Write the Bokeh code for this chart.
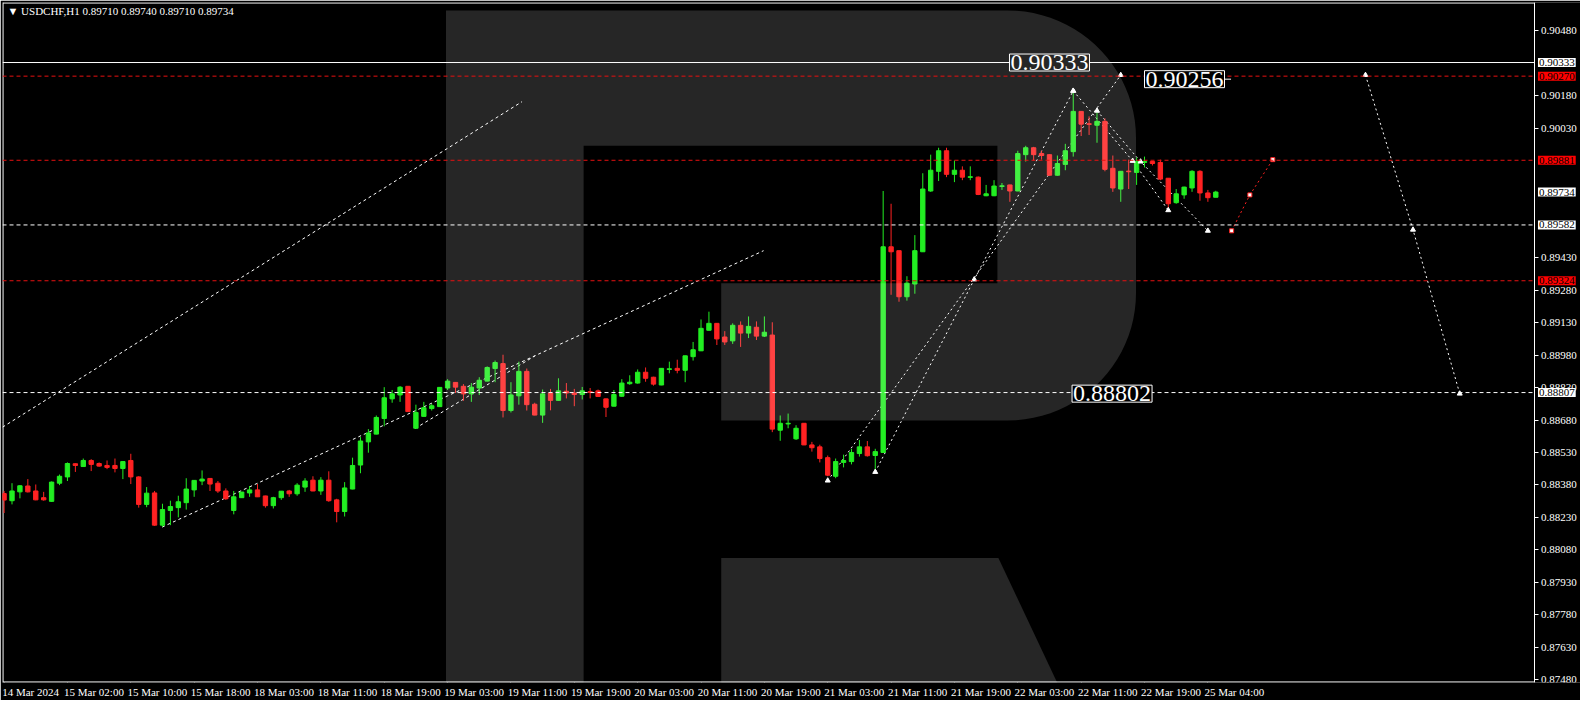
import numpy as np
from bokeh.plotting import figure
from bokeh.models import (Range1d, LinearAxis, FixedTicker, PrintfTickFormatter, Label, ColumnDataSource,
                          CustomLabelingPolicy)
from bokeh.embed import file_html
from bokeh.resources import INLINE

# ---------------- data (USDCHF H1) ----------------
opens = [0.88340,0.88307,0.88348,0.88375,0.88352,0.88321,0.88304,0.88388,0.88417,0.88478,
         0.88465,0.88493,0.88479,0.88470,0.88470,0.88456,0.88493,0.88417,0.88290,0.88343,
         0.88194,0.88262,0.88275,0.88298,0.88357,0.88398,0.88410,0.88388,0.88352,0.88262,
         0.88321,0.88343,0.88357,0.88329,0.88284,0.88321,0.88352,0.88339,0.88370,0.88402,
         0.88352,0.88402,0.88311,0.88257,0.88361,0.88472,0.88579,0.88615,0.88687,0.88778,
         0.88796,0.88836,0.88642,0.88697,0.88733,0.88742,0.88828,0.88854,0.88836,0.88801,
         0.88828,0.88860,0.88918,0.88941,0.88724,0.88792,0.88905,0.88753,0.88703,0.88805,
         0.88771,0.88813,0.88805,0.88798,0.88811,0.88815,0.88778,0.88744,0.88790,0.88848,
         0.88851,0.88901,0.88878,0.88842,0.88914,0.88919,0.88910,0.88973,0.89000,0.89095,
         0.89127,0.89064,0.89046,0.89118,0.89082,0.89109,0.89068,0.89073,0.88633,0.88662,
         0.88593,0.88665,0.88565,0.88556,0.88506,0.88420,0.88484,0.88488,0.88525,0.88556,
         0.88516,0.88530,0.89481,0.89463,0.89250,0.89309,0.89458,0.89739,0.89830,0.89925,
         0.89816,0.89835,0.89802,0.89803,0.89717,0.89717,0.89760,0.89767,0.89739,0.89907,
         0.89939,0.89912,0.89907,0.89812,0.89862,0.89921,0.90107,0.90050,0.90043,0.90061,
         0.89844,0.89748,0.89831,0.89825,0.89871,0.89875,0.89871,0.89798,0.89685,0.89721,
         0.89753,0.89830,0.89730,0.89710]
highs = [0.88352,0.88388,0.88379,0.88407,0.88382,0.88348,0.88396,0.88428,0.88484,0.88479,
         0.88502,0.88499,0.88484,0.88493,0.88502,0.88490,0.88524,0.88420,0.88370,0.88352,
         0.88293,0.88307,0.88330,0.88411,0.88402,0.88447,0.88411,0.88398,0.88364,0.88352,
         0.88348,0.88375,0.88384,0.88330,0.88325,0.88352,0.88357,0.88388,0.88411,0.88420,
         0.88416,0.88443,0.88316,0.88393,0.88506,0.88601,0.88638,0.88701,0.88832,0.88819,
         0.88837,0.88837,0.88751,0.88764,0.88755,0.88832,0.88869,0.88855,0.88846,0.88851,
         0.88878,0.88928,0.88955,0.88982,0.88855,0.88950,0.88918,0.88760,0.88821,0.88824,
         0.88873,0.88851,0.88824,0.88833,0.88828,0.88821,0.88779,0.88819,0.88869,0.88887,
         0.88914,0.88923,0.88880,0.88920,0.88950,0.88959,0.88978,0.89041,0.89145,0.89181,
         0.89128,0.89091,0.89127,0.89136,0.89159,0.89136,0.89159,0.89132,0.88701,0.88710,
         0.88656,0.88666,0.88579,0.88566,0.88516,0.88502,0.88520,0.88547,0.88588,0.88583,
         0.88547,0.89739,0.89680,0.89463,0.89345,0.89535,0.89821,0.89907,0.89939,0.89939,
         0.89880,0.89853,0.89853,0.89806,0.89767,0.89789,0.89776,0.89768,0.89925,0.89948,
         0.89943,0.89925,0.89908,0.89903,0.89957,0.90202,0.90108,0.90084,0.90107,0.90075,
         0.89903,0.89831,0.89884,0.89894,0.89898,0.89877,0.89884,0.89798,0.89748,0.89759,
         0.89835,0.89835,0.89744,0.89740]
lows = [0.88250,0.88290,0.88318,0.88345,0.88309,0.88307,0.88302,0.88379,0.88398,0.88440,
        0.88464,0.88444,0.88464,0.88453,0.88438,0.88407,0.88384,0.88275,0.88277,0.88191,
        0.88186,0.88194,0.88230,0.88266,0.88325,0.88379,0.88352,0.88343,0.88311,0.88244,
        0.88320,0.88325,0.88324,0.88275,0.88271,0.88311,0.88325,0.88330,0.88348,0.88351,
        0.88334,0.88302,0.88207,0.88234,0.88360,0.88434,0.88529,0.88614,0.88651,0.88760,
        0.88764,0.88718,0.88641,0.88696,0.88724,0.88741,0.88819,0.88805,0.88769,0.88764,
        0.88796,0.88859,0.88855,0.88692,0.88715,0.88751,0.88724,0.88702,0.88667,0.88725,
        0.88770,0.88780,0.88744,0.88775,0.88780,0.88787,0.88694,0.88743,0.88787,0.88843,
        0.88848,0.88857,0.88839,0.88841,0.88896,0.88896,0.88855,0.88955,0.88999,0.89094,
        0.89027,0.89027,0.89032,0.89018,0.89059,0.89050,0.89064,0.88624,0.88584,0.88642,
        0.88588,0.88564,0.88534,0.88484,0.88420,0.88411,0.88461,0.88475,0.88511,0.88511,
        0.88448,0.88529,0.89259,0.89227,0.89232,0.89264,0.89457,0.89735,0.89785,0.89803,
        0.89780,0.89789,0.89789,0.89720,0.89715,0.89715,0.89744,0.89689,0.89738,0.89875,
        0.89880,0.89884,0.89810,0.89810,0.89835,0.89898,0.89993,0.89998,0.89962,0.89830,
        0.89735,0.89689,0.89748,0.89767,0.89848,0.89857,0.89789,0.89658,0.89680,0.89703,
        0.89735,0.89694,0.89689,0.89710]
closes = [0.88310,0.88352,0.88376,0.88348,0.88311,0.88311,0.88393,0.88420,0.88479,0.88470,
          0.88493,0.88475,0.88467,0.88461,0.88456,0.88488,0.88417,0.88290,0.88342,0.88194,
          0.88266,0.88280,0.88302,0.88361,0.88401,0.88407,0.88384,0.88352,0.88316,0.88325,
          0.88347,0.88357,0.88325,0.88284,0.88321,0.88351,0.88339,0.88379,0.88398,0.88352,
          0.88402,0.88307,0.88257,0.88366,0.88470,0.88583,0.88620,0.88692,0.88783,0.88801,
          0.88832,0.88719,0.88715,0.88737,0.88746,0.88831,0.88860,0.88832,0.88801,0.88832,
          0.88864,0.88923,0.88946,0.88724,0.88796,0.88905,0.88751,0.88703,0.88801,0.88771,
          0.88815,0.88805,0.88798,0.88815,0.88808,0.88789,0.88739,0.88798,0.88851,0.88855,
          0.88901,0.88873,0.88846,0.88919,0.88917,0.88910,0.88977,0.89005,0.89104,0.89127,
          0.89055,0.89041,0.89118,0.89082,0.89113,0.89068,0.89086,0.88638,0.88665,0.88665,
          0.88642,0.88565,0.88552,0.88502,0.88425,0.88488,0.88493,0.88530,0.88556,0.88515,
          0.88534,0.89481,0.89458,0.89250,0.89313,0.89463,0.89748,0.89835,0.89925,0.89816,
          0.89835,0.89803,0.89805,0.89723,0.89726,0.89762,0.89763,0.89739,0.89912,0.89939,
          0.89907,0.89903,0.89812,0.89866,0.89925,0.90107,0.90048,0.90047,0.90061,0.89839,
          0.89753,0.89830,0.89828,0.89875,0.89875,0.89866,0.89794,0.89680,0.89726,0.89757,
          0.89830,0.89730,0.89708,0.89734]

time_labels = ["14 Mar 2024", "15 Mar 02:00", "15 Mar 10:00", "15 Mar 18:00", "18 Mar 03:00",
               "18 Mar 11:00", "18 Mar 19:00", "19 Mar 03:00", "19 Mar 11:00", "19 Mar 19:00",
               "20 Mar 03:00", "20 Mar 11:00", "20 Mar 19:00", "21 Mar 03:00", "21 Mar 11:00",
               "21 Mar 19:00", "22 Mar 03:00", "22 Mar 11:00", "22 Mar 19:00", "25 Mar 04:00"]
time_label_bars = [0, 8, 16, 24, 32, 40, 48, 56, 64, 72, 80, 88, 96, 104, 112, 120, 128, 136, 144, 152]

# price scale ticks (those hidden behind the price tags are left out)
price_ticks = [0.87480, 0.87630, 0.87780, 0.87930, 0.88080, 0.88230, 0.88380, 0.88530, 0.88680,
               0.88830, 0.88980, 0.89130, 0.89280, 0.89430, 0.90030, 0.90180, 0.90480]

level_solid = [0.90333]
levels_red = [0.90270, 0.89881, 0.89324]
levels_white = [0.89582, 0.88807]
tag_prices = [0.90333, 0.90270, 0.89881, 0.89734, 0.89582, 0.89324, 0.88807]
tag_kinds = ["white", "red", "red", "white", "white", "red", "white"]

# forecast / channel lines (bar index, price)
channel_xs = [[-0.2, 65.4], [19.95, 95.9], [51.9, 67.05]]
channel_ys = [[0.88647, 0.90152], [0.88185, 0.89463], [0.88641, 0.88977]]
zz_xs = [[104, 141], [110, 122.5, 135], [135, 142.5, 147], [138, 143.5, 152], [171.9, 177.9, 183.8]]
zz_ys = [[0.88400, 0.90275], [0.88440, 0.89330, 0.90202], [0.90202, 0.89878, 0.89650],
         [0.90110, 0.89875, 0.89555], [0.90275, 0.89560, 0.88802]]
red_xs = [155, 157.3, 160.2]
red_ys = [0.89555, 0.89721, 0.89884]
note_texts = ["0.90333", "0.90256", "0.88802"]
note_x = [132.0, 149.05, 139.9]
note_y = [0.90333, 0.90256, 0.88802]

# ---------------- figure ----------------
FONT = "Liberation Sans Narrow"
X0, XAX, X1 = -0.2, 193.3, 199.05      # chart left, price-axis position, right edge
Y0, Y1 = 0.874665, 0.906105

def px_x(px):
    return (px - 3.6) / 8.0

def px_y(py):
    return 0.90480 - (py - 30.7) / 22044.0

p = figure(width=1580, height=700, x_range=Range1d(X0, X1), y_range=Range1d(Y0, Y1),
           output_backend="svg", toolbar_location=None,
           background_fill_color="black", border_fill_color="black",
           outline_line_color=None,
           x_axis_location=None, y_axis_location=None,
           min_border_left=2, min_border_top=2, min_border_right=0, min_border_bottom=0)
p.xgrid.visible = False
p.ygrid.visible = False

# price axis drawn at the chart's right edge, labels in the strip to its right
yaxis = LinearAxis(ticker=FixedTicker(ticks=price_ticks), formatter=PrintfTickFormatter(format="%.5f"),
                   fixed_location=XAX,
                   axis_line_color="white", major_tick_line_color="white", minor_tick_line_color=None,
                   major_tick_out=4, major_tick_in=0, major_label_standoff=2,
                   major_label_text_color="white", major_label_text_font=FONT,
                   major_label_text_font_size="11px")
p.add_layout(yaxis, "right")

# time axis: tick marks at the bar positions, labels starting at each tick
xtick_axis = LinearAxis(ticker=FixedTicker(ticks=time_label_bars), fixed_location=Y0,
                        axis_line_color=None, major_tick_line_color="white", minor_tick_line_color=None,
                        major_tick_out=4, major_tick_in=0,
                        major_label_policy=CustomLabelingPolicy(code="return new Set()"))
p.add_layout(xtick_axis, "below")

shift = 3.35
shifted = [b + shift for b in time_label_bars]
xlab_axis = LinearAxis(ticker=FixedTicker(ticks=shifted),
                       major_label_overrides={s: t for s, t in zip(shifted, time_labels)},
                       axis_line_color=None, major_tick_line_color=None, minor_tick_line_color=None,
                       major_tick_out=0, major_tick_in=0, major_label_standoff=3,
                       major_label_text_color="white", major_label_text_font=FONT,
                       major_label_text_font_size="11px")
p.add_layout(xlab_axis, "below")

# chart border (left, top, bottom) up to the price axis
dx = 0.07
dy = 0.000025
p.segment(x0=[X0 + dx, X0 + dx, X0 + dx], y0=[Y0, Y1 - dy, Y0 + dy],
          x1=[X0 + dx, XAX, XAX], y1=[Y1, Y1 - dy, Y0 + dy], line_color="white", line_width=1)

# lines
p.multi_line(xs=channel_xs, ys=channel_ys, line_color="white", line_width=1, line_dash="3 3")
p.multi_line(xs=zz_xs, ys=zz_ys, line_color="white", line_width=1, line_dash="2 3")
p.line(x=red_xs, y=red_ys, line_color="#ff2020", line_width=1, line_dash="2 3")

# candles
idx = list(range(len(opens)))
up = [c >= o for o, c in zip(opens, closes)]
col = ["#22ee22" if u else "#ff2222" for u in up]
src = ColumnDataSource(dict(x=idx, o=opens, h=highs, l=lows, c=closes,
                            top=[max(o, c) for o, c in zip(opens, closes)],
                            bot=[min(o, c) for o, c in zip(opens, closes)], col=col))
p.segment(x0="x", y0="h", x1="x", y1="l", line_color="col", line_width=1, source=src)
p.vbar(x="x", width=0.55, top="top", bottom="bot", fill_color="col", line_color="col", line_width=1, source=src)

# markers on forecast points
mx = [x for xs in zz_xs for x in xs]
my = [y for ys in zz_ys for y in ys]
p.scatter(x=mx, y=my, marker="triangle", size=5, fill_color="white", line_color="white")
p.scatter(x=red_xs, y=red_ys, marker="square", size=4, fill_color="white", line_color="#ff2020")

# small pointer from the 0.90256 note
p.segment(x0=[px_x(1233)], y0=[0.90256], x1=[px_x(1243)], y1=[0.90256], line_color="white", line_width=1)

# background logo (translucent overlay)
t = np.linspace(0, np.pi / 2, 24)
r = 130.0
tr_x = list(1017 + r * np.sin(t)); tr_y = list(140 - r * np.cos(t))
br_x = list(1017 + r * np.cos(t)); br_y = list(298 + r * np.sin(t))
logo_px_x = [450] + tr_x + br_x + [728, 728, 1007, 1007, 589, 589, 450]
logo_px_y = [10] + tr_y + br_y + [428, 288, 288, 148, 148, 705, 705]
leg_px_x = [728, 1008, 1072, 728]
leg_px_y = [568, 568, 705, 705]
p.patches(xs=[[px_x(v) for v in logo_px_x], [px_x(v) for v in leg_px_x]],
          ys=[[px_y(v) for v in logo_px_y], [px_y(v) for v in leg_px_y]],
          fill_color="white", fill_alpha=0.15, line_color=None)

# horizontal levels (stop at the price axis)
p.segment(x0=[X0] * len(level_solid), y0=level_solid, x1=[XAX] * len(level_solid), y1=level_solid,
          line_color="white", line_width=1)
p.segment(x0=[X0] * len(levels_red), y0=levels_red, x1=[XAX] * len(levels_red), y1=levels_red,
          line_color="#e81010", line_width=1, line_dash="4 3")
p.segment(x0=[X0] * len(levels_white), y0=levels_white, x1=[XAX] * len(levels_white), y1=levels_white,
          line_color="white", line_width=1, line_dash="4 3")

# notes
note_bg = ["#262626", "black", "black"]
for tx, xx, yy, bg in zip(note_texts, note_x, note_y, note_bg):
    p.add_layout(Label(x=xx, y=yy, text=tx, text_align="center", text_baseline="middle",
                       text_font=FONT, text_font_size="24px", text_color="white",
                       background_fill_color=bg, border_line_color="white", border_line_width=1,
                       padding=1))

# price tags on the axis
for pr, kind in zip(tag_prices, tag_kinds):
    bg = "white" if kind == "white" else "#ff0000"
    p.add_layout(Label(x=XAX + 0.38, y=pr, text="%.5f" % pr, text_align="left", text_baseline="middle",
                       text_font=FONT, text_font_size="11px", text_color="black",
                       background_fill_color=bg, padding=1))

# header
hdr = "\u25BC USDCHF,H1  %.5f %.5f %.5f %.5f" % (opens[-1], highs[-1], lows[-1], closes[-1])
p.add_layout(Label(x=px_x(7), y=px_y(11), text=hdr, text_align="left", text_baseline="middle",
                   text_font=FONT, text_font_size="11px", text_color="white"))

open("out.html", "w").write(file_html(p, INLINE))
